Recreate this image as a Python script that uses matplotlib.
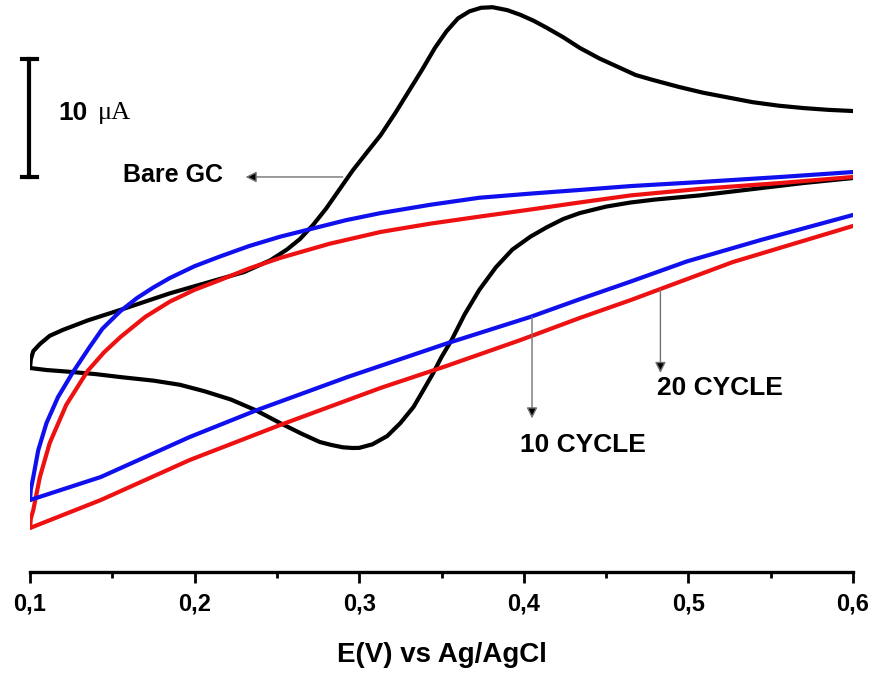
import matplotlib
matplotlib.use("Agg")
import matplotlib.pyplot as plt
from matplotlib.ticker import MultipleLocator

plt.rcParams["font.family"] = ["Liberation Sans", "DejaVu Sans"]

# ------------------------------------
# Data: potential (V) and current (uA, arbitrary offset)
# ------------------------------------
# Bare GC, forward scan 0.1 -> 0.6
bare_fwd_v = [0.100, 0.1005, 0.102, 0.106, 0.112, 0.120, 0.135, 0.155, 0.170, 0.185,
              0.200, 0.215, 0.230, 0.246, 0.256, 0.264, 0.272, 0.280, 0.288, 0.296,
              0.305, 0.313, 0.322, 0.330, 0.338, 0.346, 0.353, 0.360, 0.367, 0.374,
              0.381, 0.390, 0.398, 0.406, 0.414, 0.424, 0.434, 0.446, 0.457, 0.468,
              0.478, 0.494, 0.509, 0.524, 0.539, 0.555, 0.570, 0.585, 0.600]
bare_fwd_i = [16.27, 17.0, 17.7, 18.3, 19.0, 19.5, 20.3, 21.2, 21.9, 22.6,
              23.2, 23.8, 24.4, 25.4, 26.3, 27.2, 28.4, 29.8, 31.4, 33.0,
              34.6, 36.0, 37.9, 39.7, 41.5, 43.4, 44.8, 45.9, 46.5, 46.8,
              46.85, 46.6, 46.2, 45.7, 45.1, 44.3, 43.4, 42.5, 41.8, 41.1,
              40.7, 40.1, 39.6, 39.2, 38.8, 38.5, 38.3, 38.15, 38.05]
# Bare GC, reverse scan 0.6 -> 0.1
bare_rev_v = [0.600, 0.570, 0.537, 0.507, 0.480, 0.465, 0.450, 0.434, 0.424, 0.414,
              0.404, 0.393, 0.383, 0.373, 0.364, 0.356, 0.350, 0.345, 0.339, 0.333,
              0.325, 0.317, 0.308, 0.300, 0.296, 0.290, 0.283, 0.276, 0.265, 0.252,
              0.237, 0.222, 0.206, 0.191, 0.175, 0.155, 0.140, 0.124, 0.110, 0.100]
bare_rev_i = [32.37, 31.95, 31.4, 30.9, 30.55, 30.3, 29.95, 29.4, 28.9, 28.2,
              27.4, 26.3, 24.8, 22.9, 20.8, 18.6, 17.2, 15.85, 14.4, 12.97,
              11.6, 10.5, 9.8, 9.5, 9.49, 9.55, 9.75, 10.0, 10.7, 11.6,
              12.7, 13.6, 14.3, 14.85, 15.2, 15.5, 15.75, 15.95, 16.1, 16.27]

# 10 cycles
c10_fwd_v = [0.100, 0.1005, 0.102, 0.105, 0.110, 0.117, 0.126, 0.136, 0.144, 0.155,
             0.165, 0.175, 0.185, 0.200, 0.215, 0.233, 0.252, 0.272, 0.292, 0.313,
             0.343, 0.373, 0.404, 0.434, 0.465, 0.507, 0.556, 0.600]
c10_fwd_i = [5.08, 6.0, 7.03, 9.3, 11.6, 13.8, 15.9, 18.0, 19.6, 21.1,
             22.2, 23.1, 23.9, 24.9, 25.7, 26.6, 27.4, 28.1, 28.8, 29.4,
             30.1, 30.7, 31.05, 31.36, 31.69, 32.03, 32.46, 32.88]
c10_rev_v = [0.600, 0.544, 0.499, 0.465, 0.434, 0.404, 0.354, 0.293, 0.238, 0.197,
             0.143, 0.100]
c10_rev_i = [29.24, 27.12, 25.3, 23.6, 22.1, 20.6, 18.39, 15.51, 12.71, 10.42,
             7.03, 5.08]

# 20 cycles
c20_fwd_v = [0.100, 0.1005, 0.102, 0.106, 0.112, 0.122, 0.135, 0.145, 0.155, 0.170,
             0.185, 0.200, 0.215, 0.233, 0.252, 0.282, 0.313, 0.343, 0.373, 0.404,
             0.434, 0.465, 0.507, 0.556, 0.600]
c20_fwd_i = [2.71, 3.5, 4.24, 7.03, 9.92, 13.14, 16.02, 17.6, 18.9, 20.6,
             21.9, 22.9, 23.7, 24.7, 25.6, 26.8, 27.8, 28.5, 29.1, 29.7,
             30.3, 30.9, 31.45, 31.95, 32.46]
c20_rev_v = [0.600, 0.527, 0.465, 0.434, 0.398, 0.353, 0.313, 0.252, 0.197, 0.143,
             0.100]
c20_rev_i = [28.31, 25.25, 22.03, 20.51, 18.64, 16.44, 14.58, 11.44, 8.47, 5.08,
             2.71]

x_ticks = [0.1, 0.2, 0.3, 0.4, 0.5, 0.6]
x_tick_labels = ["0,1", "0,2", "0,3", "0,4", "0,5", "0,6"]

# ------------------------------------
# Figure
# ------------------------------------
fig = plt.figure(figsize=(8.76, 6.75), dpi=100)
ax = fig.add_axes([30 / 876, 103 / 675, 823 / 876, 572 / 675])

line_kw = dict(lw=3, solid_joinstyle="round", solid_capstyle="round")
ax.plot(bare_fwd_v, bare_fwd_i, color="black", **line_kw)
ax.plot(bare_rev_v, bare_rev_i, color="black", **line_kw)
ax.plot(c20_fwd_v, c20_fwd_i, color="#ee1111", **line_kw)
ax.plot(c20_rev_v, c20_rev_i, color="#ee1111", **line_kw)
ax.plot(c10_fwd_v, c10_fwd_i, color="#1010ee", **line_kw)
ax.plot(c10_rev_v, c10_rev_i, color="#1010ee", **line_kw)

ax.set_xlim(0.1, 0.6)
ax.set_ylim(-1.02, 47.46)

for side in ["left", "right", "top"]:
    ax.spines[side].set_visible(False)
ax.spines["bottom"].set_linewidth(2.4)
ax.set_yticks([])

ax.set_xticks(x_ticks)
ax.set_xticklabels(x_tick_labels, fontsize=17, fontweight="bold")
ax.xaxis.set_minor_locator(MultipleLocator(0.05))
ax.tick_params(axis="x", which="major", direction="out", length=8, width=2, pad=7)
ax.tick_params(axis="x", which="minor", direction="out", length=4, width=2)
ax.set_xlabel("E(V) vs Ag/AgCl", fontsize=20, fontweight="bold", labelpad=19)

# scale bar 10 uA
ax.plot([0.0994, 0.0994], [32.5, 42.5], color="black", lw=3, clip_on=False)
ax.plot([0.095, 0.104], [32.5, 32.5], color="black", lw=3, clip_on=False)
ax.plot([0.095, 0.104], [42.5, 42.5], color="black", lw=3, clip_on=False)
ax.text(0.117, 37.9, "10", fontsize=19, fontweight="bold", va="center", ha="left")
ax.text(0.1413, 37.9, "\u03bcA", fontsize=19, family=["Liberation Serif"],
        va="center", ha="left")

arrow = dict(arrowstyle="-|>", ec="0.45", fc="black", lw=1, mutation_scale=16,
             shrinkA=0, shrinkB=0)

ax.annotate("", xy=(0.231, 32.46), xytext=(0.290, 32.46), arrowprops=arrow)
ax.text(0.187, 32.6, "Bare GC", fontsize=18, fontweight="bold", ha="center", va="center")

ax.annotate("", xy=(0.405, 12.0), xytext=(0.405, 20.6), arrowprops=arrow)
ax.text(0.436, 9.75, "10 CYCLE", fontsize=19, fontweight="bold", ha="center", va="center")

ax.annotate("", xy=(0.483, 15.85), xytext=(0.483, 22.9), arrowprops=arrow)
ax.text(0.519, 14.58, "20 CYCLE", fontsize=19, fontweight="bold", ha="center", va="center")

plt.savefig("out.png", dpi=100)
plt.close()
